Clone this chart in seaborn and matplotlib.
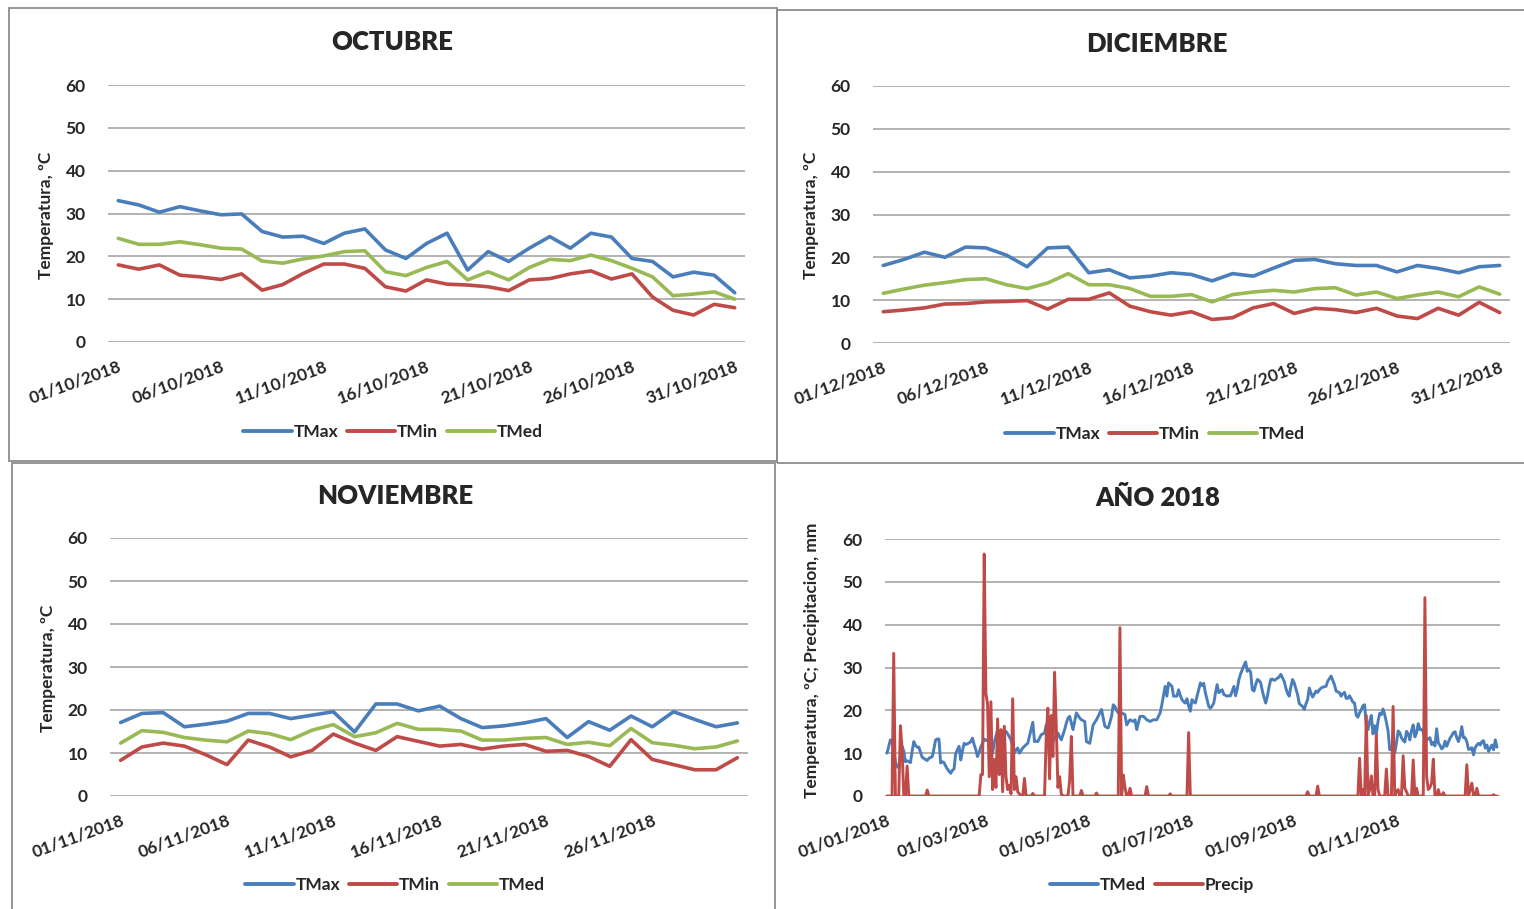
import numpy as np
import pandas as pd
import matplotlib
matplotlib.use("Agg")
import matplotlib.pyplot as plt
import seaborn as sns
from matplotlib.lines import Line2D
from matplotlib.patches import Rectangle

sns.set_style("white")
plt.rcParams['font.family'] = ['Lato', 'DejaVu Sans']
plt.rcParams['font.weight'] = 'bold'

BLUE = "#4A7EBB"
RED = "#BE4B48"
GREEN = "#98B954"
GRID = "#A6A6A6"

# ---------------- monthly data (ºC) ----------------
oct_labels = ["01/10/2018", "06/10/2018", "11/10/2018", "16/10/2018",
              "21/10/2018", "26/10/2018", "31/10/2018"]
oct_tmax = [33.0, 32.0, 30.3, 31.6, 30.6, 29.7, 29.9, 25.8, 24.5, 24.7, 23.0,
            25.4, 26.4, 21.5, 19.5, 23.0, 25.4, 16.8, 21.1, 18.8, 21.9, 24.6,
            21.9, 25.4, 24.5, 19.5, 18.8, 15.2, 16.3, 15.6, 11.5]
oct_tmin = [18.0, 17.0, 18.0, 15.6, 15.2, 14.6, 15.9, 12.1, 13.4, 16.0, 18.2,
            18.2, 17.2, 12.9, 11.9, 14.5, 13.5, 13.3, 12.9, 12.0, 14.5, 14.8,
            15.9, 16.6, 14.7, 15.9, 10.5, 7.4, 6.3, 8.8, 8.0]
oct_tmed = [24.2, 22.8, 22.8, 23.4, 22.7, 21.9, 21.7, 18.9, 18.4, 19.4, 20.1,
            21.1, 21.3, 16.4, 15.5, 17.4, 18.8, 14.5, 16.4, 14.5, 17.4, 19.3,
            19.0, 20.3, 19.0, 17.2, 15.2, 10.8, 11.2, 11.7, 10.0]

nov_labels = ["01/11/2018", "06/11/2018", "11/11/2018", "16/11/2018",
              "21/11/2018", "26/11/2018"]
nov_tmax = [17.1, 19.2, 19.4, 16.1, 16.7, 17.4, 19.2, 19.2, 18.0, 18.8, 19.6,
            14.9, 21.4, 21.4, 19.8, 20.9, 18.0, 15.9, 16.3, 17.0, 18.0, 13.6,
            17.3, 15.3, 18.6, 16.1, 19.6, 17.8, 16.1, 17.0]
nov_tmin = [8.3, 11.4, 12.3, 11.6, 9.6, 7.3, 13.0, 11.4, 9.1, 10.6, 14.4,
            12.3, 10.6, 13.8, 12.7, 11.6, 12.0, 10.9, 11.6, 12.0, 10.4, 10.6,
            9.2, 6.9, 13.1, 8.5, 7.3, 6.1, 6.1, 8.9]
nov_tmed = [12.3, 15.2, 14.8, 13.6, 13.0, 12.6, 15.1, 14.5, 13.1, 15.3, 16.6,
            13.8, 14.7, 16.9, 15.5, 15.5, 15.1, 13.0, 13.0, 13.4, 13.6, 12.0,
            12.5, 11.7, 15.7, 12.4, 11.8, 11.0, 11.4, 12.8]

dic_labels = ["01/12/2018", "06/12/2018", "11/12/2018", "16/12/2018",
              "21/12/2018", "26/12/2018", "31/12/2018"]
dic_tmax = [18.1, 19.5, 21.2, 20.0, 22.4, 22.2, 20.5, 17.8, 22.2, 22.4, 16.4,
            17.1, 15.2, 15.6, 16.4, 16.0, 14.5, 16.2, 15.6, 17.5, 19.3, 19.5,
            18.5, 18.1, 18.1, 16.6, 18.1, 17.4, 16.4, 17.8, 18.1]
dic_tmin = [7.3, 7.7, 8.2, 9.1, 9.2, 9.6, 9.7, 9.9, 7.9, 10.2, 10.2, 11.7,
            8.6, 7.3, 6.5, 7.3, 5.5, 5.9, 8.2, 9.2, 6.9, 8.1, 7.8, 7.1, 8.1,
            6.3, 5.7, 8.1, 6.5, 9.5, 7.1]
dic_tmed = [11.6, 12.6, 13.5, 14.1, 14.8, 15.0, 13.6, 12.7, 14.0, 16.2, 13.6,
            13.6, 12.7, 10.9, 10.9, 11.3, 9.6, 11.3, 11.9, 12.3, 11.9, 12.7,
            12.9, 11.2, 11.9, 10.4, 11.2, 11.9, 10.8, 13.1, 11.4]

# ---------------- year 2018: daily mean temperature (ºC) ----------------
ene_tmed = [10.0, 11.5, 13.1, 13.0, 10.5, 8.0, 6.9, 6.6, 9.0, 11.6, 10.5,
            8.0, 8.2, 8.0, 7.8, 10.5, 12.7, 11.8, 11.4, 11.4, 10.2, 9.0, 8.8,
            8.5, 8.3, 8.8, 9.0, 9.2, 11.0, 13.1, 13.3]
feb_tmed = [13.3, 7.7, 8.0, 7.8, 7.0, 6.3, 5.8, 5.3, 6.0, 6.3, 10.0, 10.8,
            11.6, 8.4, 10.5, 12.3, 12.0, 12.2, 12.4, 12.7, 13.5, 12.0, 10.8,
            9.2, 10.2, 11.5, 12.3, 13.3]
mar_tmed = [13.0, 13.1, 12.0, 11.0, 10.0, 12.5, 14.0, 15.5, 10.8, 12.0, 13.5,
            14.5, 15.1, 14.5, 13.8, 13.1, 11.5, 10.0, 10.8, 11.2, 10.0, 10.6,
            11.2, 11.6, 12.0, 12.3, 13.9, 15.5, 17.2, 12.7, 12.8]
abr_tmed = [12.7, 13.5, 14.3, 14.5, 14.7, 16.6, 15.0, 13.5, 13.0, 12.7, 13.5,
            14.2, 14.7, 13.8, 13.1, 14.3, 15.5, 17.0, 18.2, 18.6, 17.0, 15.5,
            17.5, 19.4, 18.8, 18.2, 17.8, 17.6, 17.4, 12.7]
may_tmed = [12.5, 12.3, 14.5, 16.6, 17.2, 17.8, 18.6, 19.4, 20.2, 18.2, 16.3,
            16.0, 15.9, 17.2, 18.6, 21.3, 20.9, 20.0, 19.4, 19.4, 19.4, 19.2,
            19.0, 16.6, 17.2, 17.8, 17.6, 17.4, 17.8, 15.5, 17.0]
jun_tmed = [18.6, 18.6, 18.6, 18.2, 17.8, 17.6, 17.4, 17.6, 17.8, 17.8, 17.8,
            18.6, 19.4, 21.3, 23.5, 25.6, 23.3, 26.4, 26.0, 25.6, 23.3, 23.3,
            23.3, 24.8, 23.5, 22.5, 22.0, 21.7, 22.7, 21.0]
jul_tmed = [19.8, 22.5, 22.0, 21.7, 23.3, 25.0, 26.4, 25.8, 26.3, 24.1, 22.5,
            20.9, 20.5, 21.0, 21.7, 24.0, 26.0, 24.1, 24.5, 24.8, 23.7, 23.5,
            23.3, 23.4, 23.4, 24.5, 25.6, 23.4, 25.0, 27.2, 28.5]
ago_tmed = [29.5, 30.5, 31.3, 29.1, 29.5, 28.9, 24.8, 24.5, 26.0, 27.2, 27.0,
            26.4, 24.5, 23.0, 21.7, 23.3, 25.5, 27.2, 27.3, 27.0, 27.2, 27.5,
            27.8, 28.4, 27.6, 26.8, 25.2, 24.0, 23.3, 25.5, 27.2]
sep_tmed = [26.4, 25.0, 23.7, 21.6, 21.2, 20.9, 20.2, 21.5, 22.5, 25.2, 24.0,
            23.1, 23.8, 24.5, 24.2, 24.8, 25.2, 25.4, 25.5, 25.6, 26.8, 27.4,
            28.0, 27.0, 26.0, 24.5, 24.3, 24.1, 23.3, 23.9]

# ---------------- year 2018: rainy days (day of year, from 0) and mm ----------------
lluvia_dia = [4, 8, 9, 12, 24, 56, 57, 58, 59, 60, 61, 62, 63, 64, 65, 66, 67,
              68, 69, 70, 71, 72, 73, 74, 75, 76, 77, 78, 79, 82, 87, 95, 96,
              97, 98, 99, 100, 101, 102, 103, 104, 109, 110, 116, 125, 139,
              141, 142, 145, 155, 169, 180, 251, 257, 282, 284, 286, 288, 289,
              292, 293, 298, 302, 304, 305, 308, 309, 310, 314, 316, 321, 322,
              323, 324, 325, 326, 329, 332, 346, 348, 349, 352, 362]
lluvia_mm = [33.3, 16.4, 11.0, 7.0, 1.4, 5.0, 5.0, 56.5, 24.0, 21.5, 4.5,
             22.0, 1.5, 8.5, 2.0, 18.0, 5.0, 15.5, 1.0, 16.3, 4.5, 1.5, 2.5,
             0.5, 22.7, 1.5, 4.5, 1.0, 0.5, 4.1, 0.6, 13.9, 20.5, 4.0, 18.8,
             9.2, 28.9, 16.3, 2.0, 4.5, 0.5, 3.8, 13.9, 1.3, 0.7, 39.3, 4.9,
             2.0, 1.8, 2.2, 0.5, 14.8, 1.0, 2.3, 8.8, 1.5, 18.8, 1.5, 4.7,
             14.3, 1.5, 6.3, 20.9, 1.0, 1.5, 9.4, 1.8, 1.0, 8.4, 1.8, 46.3,
             4.5, 1.5, 2.0, 3.0, 8.6, 1.5, 0.8, 7.3, 1.5, 3.0, 1.8, 0.3]

anual_labels = ["01/01/2018", "01/03/2018", "01/05/2018", "01/07/2018",
                "01/09/2018", "01/11/2018"]
anual_ticks = [0, 59, 120, 181, 243, 304]

anual_tmed = (ene_tmed + feb_tmed + mar_tmed + abr_tmed + may_tmed + jun_tmed
              + jul_tmed + ago_tmed + sep_tmed + oct_tmed + nov_tmed + dic_tmed)
n_dias = len(anual_tmed)
anual_precip = np.zeros(n_dias)
anual_precip[lluvia_dia] = lluvia_mm

# ---------------- figure ----------------
W, H = 1524, 909
fig = plt.figure(figsize=(W / 100, H / 100), dpi=100)


def px_axes(left, right, top, bottom):
    return fig.add_axes([left / W, 1 - bottom / H, (right - left) / W,
                         (bottom - top) / H])


def frame(x0, y0, x1, y1):
    fig.add_artist(Rectangle((x0 / W, 1 - y1 / H), (x1 - x0) / W,
                             (y1 - y0) / H, transform=fig.transFigure,
                             fill=False, ec="#8E8E8E", lw=1.3))


def style_axes(ax, xlim, ticks, labels):
    ax.set_xlim(*xlim)
    ax.set_ylim(0, 60)
    ax.set_yticks(range(0, 61, 10))
    ax.set_axisbelow(True)
    ax.yaxis.grid(True, color=GRID, lw=1.2)
    ax.xaxis.grid(False)
    for s in ax.spines.values():
        s.set_visible(False)
    ax.set_xticks(ticks)
    ax.set_xticklabels(labels, rotation=20, ha="right",
                       rotation_mode="anchor")
    ax.tick_params(axis="both", length=0, labelsize=12.5)
    ax.tick_params(axis="y", pad=16)
    ax.tick_params(axis="x", pad=12)
    ax.set_xlabel("")
    ax.set_ylabel("")


def legend_at(cx, cy, names, colors):
    handles = [Line2D([], [], color=c, lw=2.8) for c in colors]
    fig.legend(handles, names, loc="center", bbox_to_anchor=(cx / W, 1 - cy / H),
               ncol=len(names), frameon=False, handlelength=2.8,
               handletextpad=0.1, columnspacing=0.5,
               prop={"size": 12.5, "weight": "bold"})


def month_panel(box, title, title_xy, tmax, tmin, tmed, labels, ylab_xy, leg_xy):
    n = len(tmax)
    ax = px_axes(*box)
    df = pd.DataFrame({
        "dia": np.tile(np.arange(n), 3),
        "valor": tmax + tmin + tmed,
        "serie": ["TMax"] * n + ["TMin"] * n + ["TMed"] * n,
    })
    sns.lineplot(data=df, x="dia", y="valor", hue="serie",
                 palette={"TMax": BLUE, "TMin": RED, "TMed": GREEN},
                 linewidth=2.6, legend=False, ax=ax)
    style_axes(ax, (-0.5, n - 0.5), list(range(0, n, 5)), labels)
    fig.text(title_xy[0] / W, 1 - title_xy[1] / H, title, ha="center",
             va="center", fontsize=18.5, weight="heavy")
    fig.text(ylab_xy[0] / W, 1 - ylab_xy[1] / H, "Temperatura, ºC",
             rotation=90, ha="center", va="center", fontsize=12.5,
             weight="bold")
    legend_at(leg_xy[0], leg_xy[1], ["TMax", "TMin", "TMed"],
              [BLUE, RED, GREEN])


frame(9, 8, 777, 461)
frame(777, 10, 1530, 463)
frame(12, 463, 775, 915)

month_panel((108, 745, 85, 342), "OCTUBRE", (392, 42), oct_tmax, oct_tmin,
            oct_tmed, oct_labels, (46, 215), (393, 432))
month_panel((873, 1510, 86, 343), "DICIEMBRE", (1157, 44), dic_tmax, dic_tmin,
            dic_tmed, dic_labels, (811, 215), (1155, 434))
month_panel((110, 748, 538, 796), "NOVIEMBRE", (395, 496), nov_tmax, nov_tmin,
            nov_tmed, nov_labels, (48, 668), (395, 885))

# annual panel
ax = px_axes(885, 1500, 539, 796)
dfa = pd.DataFrame({
    "dia": np.tile(np.arange(n_dias), 2),
    "valor": np.concatenate([anual_tmed, anual_precip]),
    "serie": ["TMed"] * n_dias + ["Precip"] * n_dias,
})
sns.lineplot(data=dfa, x="dia", y="valor", hue="serie",
             palette={"TMed": BLUE, "Precip": RED}, linewidth=2.1,
             legend=False, ax=ax)
style_axes(ax, (-1.2, n_dias + 0.8), anual_ticks, anual_labels)
fig.text(1158 / W, 1 - 498 / H, "AÑO 2018", ha="center", va="center",
         fontsize=18.5, weight="heavy")
fig.text(812 / W, 1 - 660 / H, "Temperatura, ºC; Precipitacion, mm",
         rotation=90, ha="center", va="center", fontsize=12.5, weight="bold")
legend_at(1152, 885, ["TMed", "Precip"], [BLUE, RED])

fig.savefig("out.png", dpi=100, facecolor="white")
